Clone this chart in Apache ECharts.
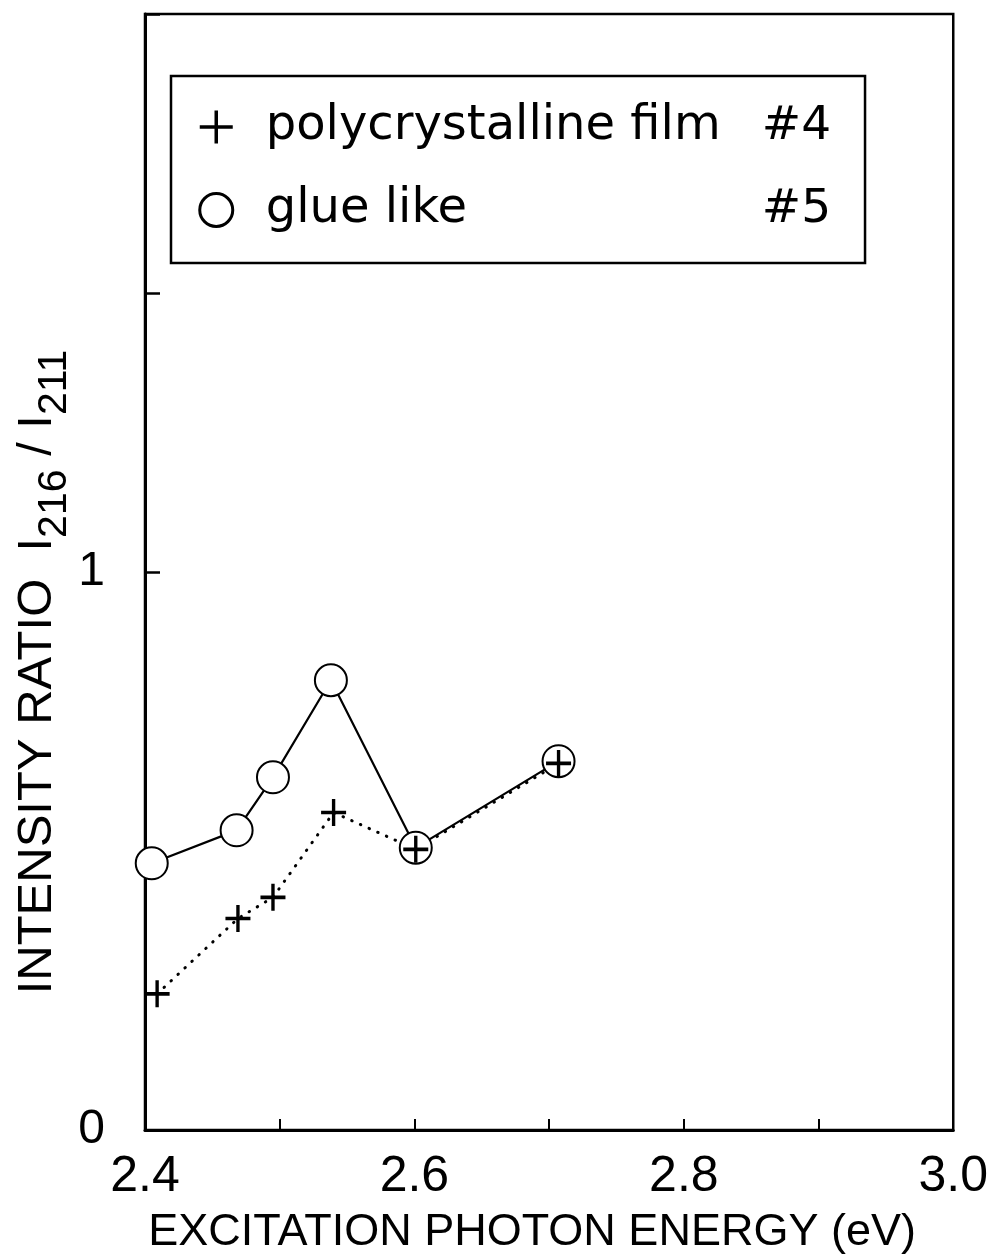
<!DOCTYPE html>
<html>
<head>
<meta charset="utf-8">
<script src="https://cdn.jsdelivr.net/npm/echarts@6/dist/echarts.min.js"></script>
<style>
html,body{margin:0;padding:0;background:#fff;}
#chart{width:991px;height:1260px;}
</style>
</head>
<body>
<div id="chart"></div>
<script>
// ---- data ----
var seriesNames = ['polycrystalline film', 'glue like'];
var sampleTags = ['#4', '#5'];
var energyPoly = [2.409, 2.469, 2.495, 2.540, 2.601, 2.707];
var ratioPoly  = [0.244, 0.379, 0.417, 0.569, 0.503, 0.657];
var energyGlue = [2.405, 2.468, 2.495, 2.538, 2.601, 2.707];
var ratioGlue  = [0.478, 0.537, 0.632, 0.806, 0.506, 0.661];
var xTickLabels = ['2.4', '2.6', '2.8', '3.0'];
var yTickLabels = ['0', '1'];
var xTitle = 'EXCITATION PHOTON ENERGY (eV)';

function pairs(xs, ys) { return xs.map(function (x, i) { return [x, ys[i]]; }); }

var plusPath = 'path://M0,12H24M12,0V24';
var FONT = '"Liberation Sans", Arial, sans-serif';
var LFONT = '"DejaVu Sans", sans-serif';

var chart = echarts.init(document.getElementById('chart'), null, {renderer: 'canvas'});
chart.setOption({
  animation: false,
  backgroundColor: '#fff',
  grid: {left: 145, right: 34, top: 14, bottom: 126, show: true, borderColor: '#000', borderWidth: 2.5, backgroundColor: 'transparent'},
  legend: {
    left: 171, top: 76, orient: 'vertical',
    padding: [26, 34, 28, 27],
    itemWidth: 33, itemHeight: 33, itemGap: 33,
    borderColor: '#000', borderWidth: 2.5, backgroundColor: '#fff',
    selectedMode: false,
    data: [
      {name: seriesNames[0], icon: plusPath, itemStyle: {color: '#000', borderColor: '#000', borderWidth: 3.5}},
      {name: seriesNames[1], icon: 'circle', itemStyle: {color: '#fff', borderColor: '#000', borderWidth: 3}}
    ],
    formatter: function (name) {
      var i = seriesNames.indexOf(name);
      return '{n|' + name + '}{h|' + sampleTags[i] + '}';
    },
    textStyle: {
      color: '#000', fontFamily: LFONT, fontSize: 48, lineHeight: 50,
      rich: {
        n: {width: 496, padding: [0, 0, 0, 28], fontFamily: LFONT, fontSize: 48, lineHeight: 50, color: '#000'},
        h: {fontFamily: LFONT, fontSize: 47, lineHeight: 50, color: '#000'}
      }
    }
  },
  xAxis: {
    type: 'value', min: 2.4, max: 3.0, interval: 0.1,
    name: xTitle, nameLocation: 'middle', nameGap: 80,
    nameTextStyle: {fontFamily: FONT, fontSize: 45, color: '#000', padding: [0, 34, 0, 0]},
    axisLine: {show: true, lineStyle: {color: '#000', width: 3}},
    axisTick: {show: true, inside: true, length: 11, lineStyle: {color: '#000', width: 2}},
    axisLabel: {
      margin: 22, fontFamily: FONT, fontSize: 50, color: '#000', showMinLabel: true, showMaxLabel: true,
      formatter: function (v) {
        var s = v.toFixed(1);
        return xTickLabels.indexOf(s) >= 0 ? s : '';
      }
    },
    splitLine: {show: false}
  },
  yAxis: {
    type: 'value', min: 0, max: 2, interval: 0.5,
    axisLine: {show: true, lineStyle: {color: '#000', width: 3}},
    axisTick: {show: true, inside: true, length: 15, lineStyle: {color: '#000', width: 2.5}},
    axisLabel: {
      margin: 40, fontFamily: FONT, fontSize: 48, color: '#000',
      formatter: function (v) {
        var s = String(Math.round(v * 10) / 10);
        return yTickLabels.indexOf(s) >= 0 ? s : '';
      }
    },
    splitLine: {show: false}
  },
  graphic: [{
    type: 'text', x: 37, y: 672, rotation: Math.PI / 2,
    style: {
      text: '{m|INTENSITY RATIO  I}{s|216}{m| / I}{s|211}',
      align: 'center', verticalAlign: 'middle', fill: '#000',
      rich: {
        m: {fontFamily: FONT, fontSize: 49, lineHeight: 49, verticalAlign: 'top', fill: '#000'},
        s: {fontFamily: FONT, fontSize: 41, lineHeight: 41, padding: [22, 0, 0, 0], verticalAlign: 'top', fill: '#000'}
      }
    }
  }],
  series: [
    {
      name: seriesNames[0], type: 'line', z: 2,
      data: pairs(energyPoly, ratioPoly),
      showSymbol: false, symbol: 'none',
      lineStyle: {color: '#000', width: 3, type: [0.5, 9], cap: 'round'}
    },
    {
      name: seriesNames[1], type: 'line', z: 3,
      data: pairs(energyGlue, ratioGlue),
      symbol: 'emptyCircle', symbolSize: 32,
      itemStyle: {color: '#000', borderColor: '#000', borderWidth: 3},
      lineStyle: {color: '#000', width: 2.2}
    },
    {
      name: seriesNames[0], type: 'scatter', z: 4,
      data: pairs(energyPoly, ratioPoly),
      symbol: plusPath, symbolSize: [25, 27],
      itemStyle: {color: '#000', borderColor: '#000', borderWidth: 3.5, opacity: 1}
    }
  ]
});
</script>
</body>
</html>
